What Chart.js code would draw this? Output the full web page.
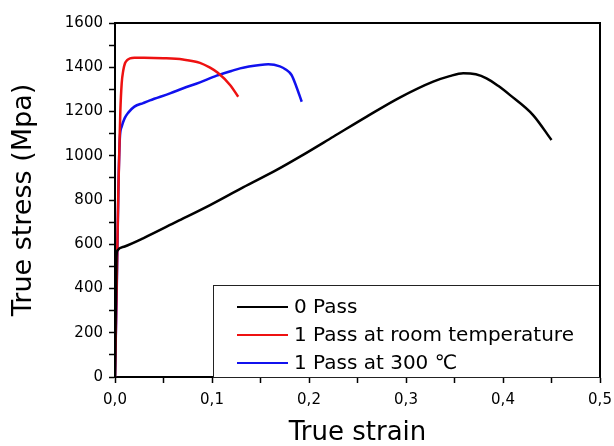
<!DOCTYPE html>
<html>
<head>
<meta charset="utf-8">
<script src="https://cdn.jsdelivr.net/npm/chart.js@4"></script>
<style>
  html, body { margin: 0; padding: 0; background: #fff; }
  #wrap { width: 614px; height: 446px; }
</style>
</head>
<body>
<div id="wrap"><canvas id="myChart"></canvas></div>
<script>
  // 0 Pass
  var passZeroStrain = [0, 0.0015, 0.0024, 0.01, 0.029, 0.0636, 0.098, 0.132, 0.1667, 0.1907, 0.225, 0.2595, 0.294, 0.328, 0.345, 0.359, 0.372, 0.383, 0.395, 0.407, 0.431, 0.45];
  var passZeroStress = [0, 540, 571, 590, 627, 702, 777, 857, 936, 996, 1086, 1177, 1264, 1335, 1360, 1373, 1368, 1350, 1316, 1275, 1184, 1071];

  // 1 Pass at room temperature
  var roomStrain = [0, 0.002, 0.0035, 0.0045, 0.0055, 0.0069, 0.0085, 0.0103, 0.0125, 0.0155, 0.02, 0.03, 0.05, 0.07, 0.0876, 0.098, 0.106, 0.1186, 0.127];
  var roomStress = [0, 480, 850, 1030, 1200, 1327, 1385, 1418, 1432, 1440, 1443, 1443, 1441, 1435, 1420, 1398, 1375, 1320, 1267];

  // 1 Pass at 300 C
  var hotStrain = [0, 0.002, 0.0035, 0.005, 0.0069, 0.01, 0.0137, 0.02, 0.029, 0.036, 0.0567, 0.0704, 0.0876, 0.1048, 0.12, 0.129, 0.1495, 0.158, 0.17, 0.176, 0.182, 0.187, 0.1925];
  var hotStress = [0, 450, 850, 1079, 1131, 1170, 1195, 1222, 1238, 1250, 1282, 1305, 1332, 1362, 1383, 1395, 1410, 1413, 1404, 1390, 1365, 1312, 1244];

  var seriesLabels = ["0 Pass", "1 Pass at room temperature", "1 Pass at 300 \u2103"];
  var seriesColors = ["#000000", "#ee1111", "#1111ee"];

  var yTicks = [0, 200, 400, 600, 800, 1000, 1200, 1400, 1600];
  var xTicks = ["0,0", "0,1", "0,2", "0,3", "0,4", "0,5"];

  function toPoints(xs, ys) {
    return xs.map(function (x, i) { return { x: x, y: ys[i] }; });
  }

  var FONT = "'DejaVu Sans', 'Noto Sans CJK SC', sans-serif";

  // frame on top and right of plot
  var framePlugin = {
    id: "frame",
    afterDraw: function (chart) {
      var a = chart.chartArea;
      var ctx = chart.ctx;
      ctx.save();
      ctx.strokeStyle = "#000";
      ctx.lineWidth = 2;
      ctx.beginPath();
      ctx.moveTo(a.left, a.top);
      ctx.lineTo(a.right, a.top);
      ctx.lineTo(a.right, a.bottom);
      ctx.stroke();
      ctx.restore();
    }
  };

  // legend box inside the plot, lower right
  var boxLegend = {
    id: "boxLegend",
    afterDatasetsDraw: function (chart) {
      var a = chart.chartArea;
      var ctx = chart.ctx;
      var left = 213, top = 285;
      ctx.save();
      ctx.fillStyle = "#fff";
      ctx.fillRect(left, top, a.right - left, a.bottom - top);
      ctx.strokeStyle = "#222";
      ctx.lineWidth = 1;
      ctx.strokeRect(left + 0.5, top + 0.5, a.right - left - 1, a.bottom - top);
      ctx.font = "20px " + FONT;
      ctx.textBaseline = "middle";
      chart.data.datasets.forEach(function (ds, i) {
        var y = 307 + i * 28;
        ctx.strokeStyle = ds.borderColor;
        ctx.lineWidth = 2;
        ctx.beginPath();
        ctx.moveTo(237, y);
        ctx.lineTo(288, y);
        ctx.stroke();
        ctx.fillStyle = "#000";
        ctx.fillText(ds.label, 294, y + 1);
      });
      ctx.restore();
    }
  };

  var ctx = document.getElementById("myChart").getContext("2d");
  var chart = new Chart(ctx, {
    type: "scatter",
    data: {
      datasets: [
        { label: seriesLabels[0], data: toPoints(passZeroStrain, passZeroStress), borderColor: seriesColors[0] },
        { label: seriesLabels[1], data: toPoints(roomStrain, roomStress), borderColor: seriesColors[1] },
        { label: seriesLabels[2], data: toPoints(hotStrain, hotStress), borderColor: seriesColors[2] }
      ]
    },
    options: {
      responsive: true,
      maintainAspectRatio: false,
      animation: false,
      showLine: true,
      layout: { padding: { top: 23, right: 14, left: 0, bottom: 0 } },
      elements: {
        point: { radius: 0, hoverRadius: 0 },
        line: { borderWidth: 2.5, fill: false, cubicInterpolationMode: "monotone" }
      },
      plugins: {
        legend: { display: false },
        tooltip: { enabled: false }
      },
      scales: {
        x: {
          type: "linear",
          min: 0,
          max: 0.5,
          afterFit: function (scale) {
            scale.height = 69;
            scale.paddingRight = 0;
            scale.paddingLeft = 0;
          },
          border: { color: "#000", width: 2 },
          grid: { drawOnChartArea: false, color: "#000", tickLength: 6, tickWidth: 1.5 },
          ticks: {
            stepSize: 0.05,
            autoSkip: false,
            maxRotation: 0,
            padding: 8,
            color: "#000",
            font: { family: FONT, size: 15 },
            callback: function (value) {
              var n = Math.round(value * 100);
              return n % 10 === 0 ? xTicks[n / 10] : "";
            }
          },
          title: {
            display: true,
            text: "True strain",
            color: "#000",
            font: { family: FONT, size: 26, lineHeight: 1 },
            padding: { top: 0, bottom: 0 }
          }
        },
        y: {
          type: "linear",
          min: 0,
          max: 1600,
          afterFit: function (scale) { scale.width = 115; },
          border: { color: "#000", width: 2 },
          grid: { drawOnChartArea: false, color: "#000", tickLength: 6, tickWidth: 1.5 },
          ticks: {
            stepSize: 100,
            autoSkip: false,
            padding: 6,
            color: "#000",
            font: { family: FONT, size: 15 },
            callback: function (value) {
              return yTicks.indexOf(value) >= 0 ? String(value) : "";
            }
          },
          title: {
            display: true,
            text: "True stress (Mpa)",
            color: "#000",
            font: { family: FONT, size: 27, lineHeight: 1 },
            padding: { top: 10, bottom: 0 }
          }
        }
      }
    },
    plugins: [framePlugin, boxLegend]
  });
</script>
</body>
</html>
